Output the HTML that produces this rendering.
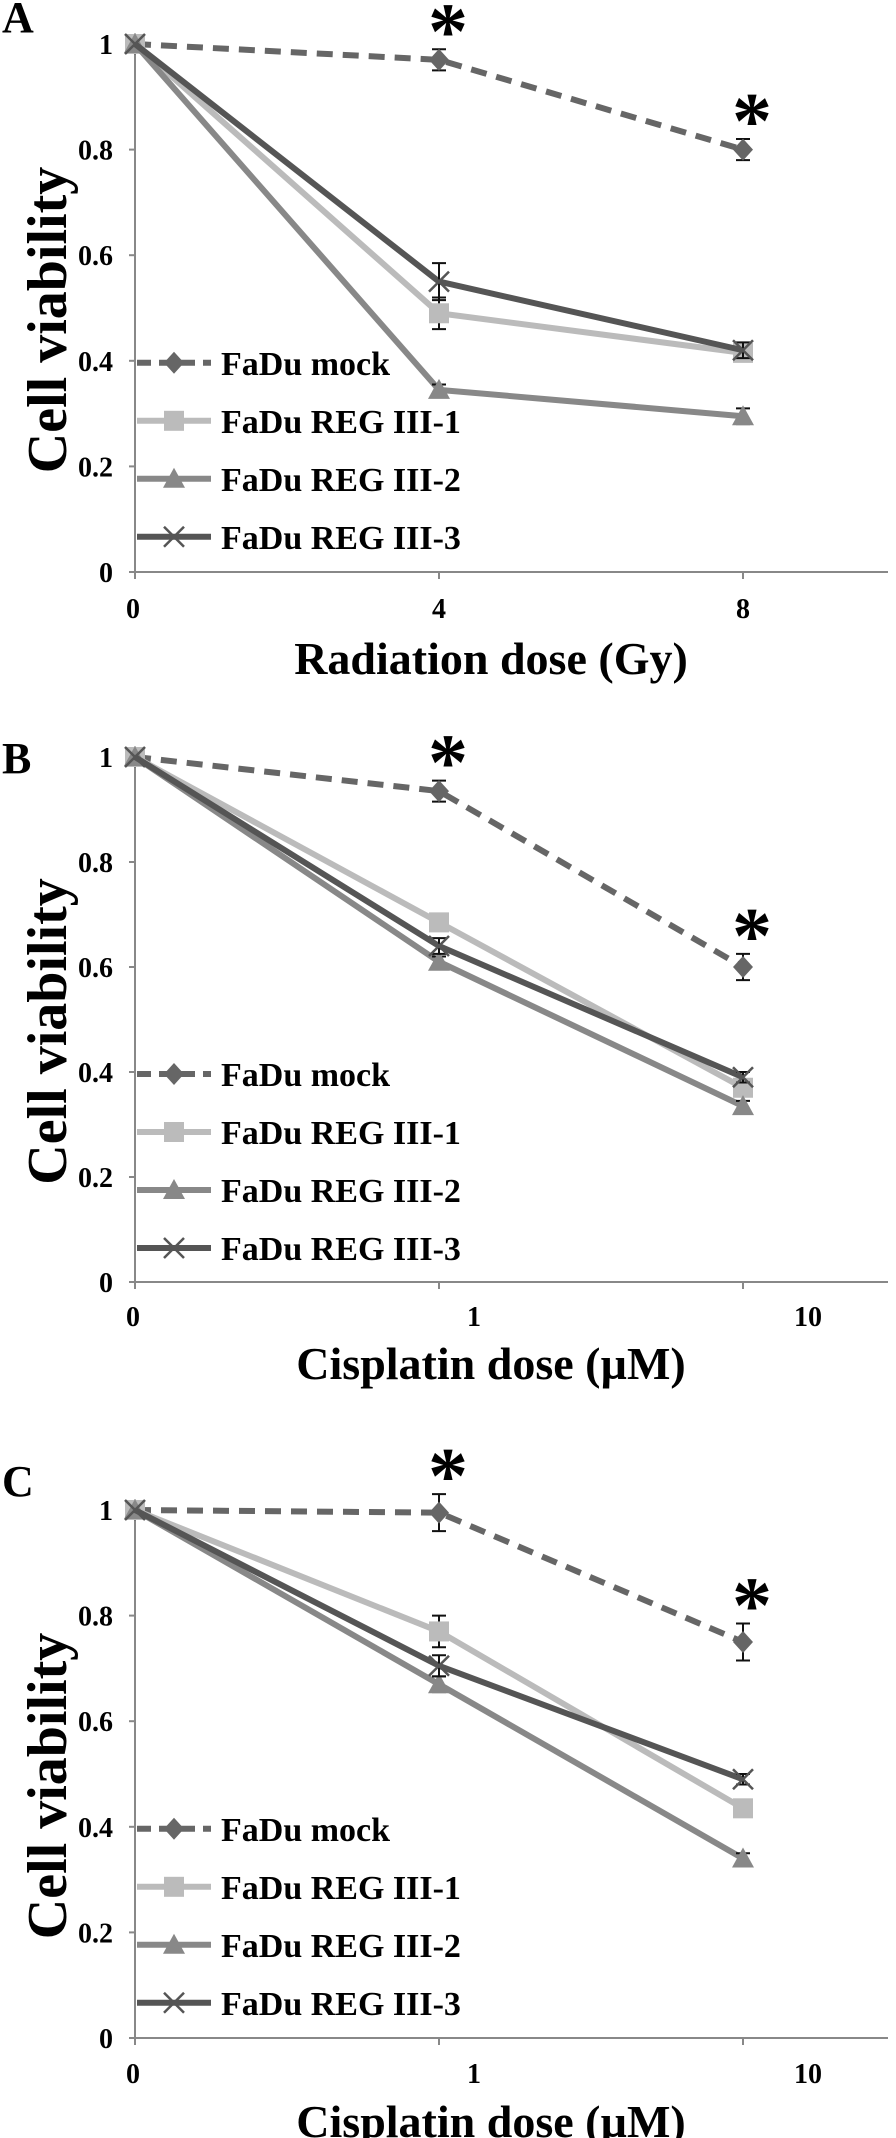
<!DOCTYPE html>
<html><head><meta charset="utf-8"><style>
html,body{margin:0;padding:0;background:#fff;}
svg{display:block;font-family:"Liberation Serif",serif;font-weight:bold;}
</style></head><body>
<svg id="fig" width="896" height="2138" viewBox="0 0 896 2138" xmlns="http://www.w3.org/2000/svg"></svg>
<script>
// ---- data ----
const seriesNames = ["FaDu mock","FaDu REG III-1","FaDu REG III-2","FaDu REG III-3"];
const yTicks = [0,0.2,0.4,0.6,0.8,1];
const yTickLabels = ["0","0.2","0.4","0.6","0.8","1"];
const aTickLabels = ["0","4","8"];
const bTickLabels = ["0","1","10"];
const cTickLabels = ["0","1","10"];
const aMock = [1,0.97,0.80];
const aReg1 = [1,0.49,0.415];
const aReg2 = [1,0.345,0.295];
const aReg3 = [1,0.55,0.42];
const aErrMock = [0,0.02,0.02];
const aErrReg1 = [0,0.03,0.01];
const aErrReg2 = [0,0.01,0.015];
const aErrReg3 = [0,0.035,0.015];
const bMock = [1,0.935,0.60];
const bReg1 = [1,0.685,0.37];
const bReg2 = [1,0.61,0.335];
const bReg3 = [1,0.64,0.39];
const bErrMock = [0,0.02,0.025];
const bErrReg1 = [0,0.01,0.01];
const bErrReg2 = [0,0.01,0.01];
const bErrReg3 = [0,0.015,0.01];
const cMock = [1,0.995,0.75];
const cReg1 = [1,0.77,0.435];
const cReg2 = [1,0.67,0.34];
const cReg3 = [1,0.705,0.49];
const cErrMock = [0,0.035,0.035];
const cErrReg1 = [0,0.03,0.01];
const cErrReg2 = [0,0.015,0.01];
const cErrReg3 = [0,0.02,0.01];

const NS="http://www.w3.org/2000/svg";
const svg=document.getElementById('fig');
function mk(tag,attrs,parent){const e=document.createElementNS(NS,tag);for(const k in attrs)e.setAttribute(k,attrs[k]);(parent||svg).appendChild(e);return e;}
const colors=["#666","#bbb","#888","#555"];

function marker(g,type,x,y,color){
  let m;
  if(type===0){m=mk('path',{d:`M${x} ${y-11}L${x+10} ${y}L${x} ${y+11}L${x-10} ${y}Z`,fill:color},g);}
  else if(type===1){m=mk('rect',{x:x-10,y:y-10,width:20,height:20,fill:color},g);}
  else if(type===2){m=mk('path',{d:`M${x} ${y-11}L${x+11} ${y+9}L${x-11} ${y+9}Z`,fill:color},g);}
  else {m=mk('path',{d:`M${x-10} ${y-10}L${x+10} ${y+10}M${x+10} ${y-10}L${x-10} ${y+10}`,stroke:color,'stroke-width':2.5},g);}
  return m;
}

function panel(cfg){
  const {letter,y0,y1,tickLabels,xTitle,series,errs,stars,letterY,tickY,titleY}=cfg;
  const xL=135, xR=888, step=304;
  const X=i=>xL+i*step;
  const Y=v=>y0+(y1-y0)*v;
  const g=mk('g',{},svg);
  
  
  const L=mk('text',{x:2,y:letterY,'font-size':44,fill:'#000'},g);L.textContent=letter;
  
  
  const ya=mk('line',{x1:xL,y1:Y(1)-4,x2:xL,y2:y0+4,stroke:'#888','stroke-width':2},g);
  
  const xa=mk('line',{x1:xL-6,y1:y0,x2:xR,y2:y0,stroke:'#888','stroke-width':2},g);
  
  yTicks.forEach((t,i)=>{
    mk('line',{x1:xL-6,y1:Y(t),x2:xL,y2:Y(t),stroke:'#888','stroke-width':2},g);
    const tl=mk('text',{x:xL-22,y:Y(t)+10,'font-size':28,'text-anchor':'end'},g);tl.textContent=yTickLabels[i];
    
  });
  tickLabels.forEach((t,i)=>{
    mk('line',{x1:X(i),y1:y0,x2:X(i),y2:y0+7,stroke:'#888','stroke-width':2},g);
    const tl=mk('text',{x:X(i)+(i===0?-2:i===1?(letter==='A'?0:35):(letter==='A'?0:65)),y:tickY,'font-size':28,'text-anchor':'middle'},g);tl.textContent=t;
    
  });
  const yt=mk('text',{x:0,y:0,'font-size':56,'text-anchor':'middle',transform:`translate(66 ${(Y(0)+Y(1))/2+12}) rotate(-90)`},g);yt.textContent='Cell viability';
  
  const xt=mk('text',{x:491,y:titleY,'font-size':46,'text-anchor':'middle'},g);xt.textContent=xTitle;
  
  [0,1,2,3].forEach(s=>{
    const vals=series[s];
    const pts=vals.map((v,i)=>X(i)+','+Y(v)).join(' ');
    const ln=mk('polyline',{points:pts,fill:'none',stroke:colors[s],'stroke-width':6,'stroke-dasharray':s===0?'16 10':'none','stroke-linejoin':'round'},g);
    
    
    vals.forEach((v,i)=>{
      const e=errs[s][i];
      if(e>0){
        const eb=mk('path',{d:`M${X(i)} ${Y(v+e)}V${Y(v-e)}M${X(i)-7} ${Y(v+e)}H${X(i)+7}M${X(i)-7} ${Y(v-e)}H${X(i)+7}`,stroke:'#111','stroke-width':2,fill:'none'},g);
        
      }
      const m=marker(g,s,X(i),Y(v),colors[s]);
      
      
    });
  });
  stars.forEach(i=>{
    const cy=Y(series[0][i]+errs[0][i])-28;
    const st=mk('text',{x:X(i)+9,y:cy+37,'font-size':80,'text-anchor':'middle'},g);st.textContent='*';
    
  });
  const lgY=[Y(0.4)+2,Y(0.4)+60,Y(0.4)+118,Y(0.4)+176];
  seriesNames.forEach((n,s)=>{
    const lg=mk('g',{},g);
    
    mk('line',{x1:137,y1:lgY[s],x2:211,y2:lgY[s],stroke:colors[s],'stroke-width':6,'stroke-dasharray':s===0?'14 8':'none'},lg);
    marker(lg,s,174,lgY[s],colors[s]);
    const t=mk('text',{x:221,y:lgY[s]+12,'font-size':34},lg);t.textContent=n;
  });
}

panel({letter:'A',y0:572,y1:44,tickLabels:aTickLabels,xTitle:'Radiation dose (Gy)',letterY:32,tickY:618,titleY:674,
  series:[aMock,aReg1,aReg2,aReg3],errs:[aErrMock,aErrReg1,aErrReg2,aErrReg3],stars:[1,2]});
panel({letter:'B',y0:1282,y1:757,tickLabels:bTickLabels,xTitle:'Cisplatin dose (µM)',letterY:773,tickY:1326,titleY:1379,
  series:[bMock,bReg1,bReg2,bReg3],errs:[bErrMock,bErrReg1,bErrReg2,bErrReg3],stars:[1,2]});
panel({letter:'C',y0:2038,y1:1510,tickLabels:cTickLabels,xTitle:'Cisplatin dose (µM)',letterY:1496,tickY:2083,titleY:2137,
  series:[cMock,cReg1,cReg2,cReg3],errs:[cErrMock,cErrReg1,cErrReg2,cErrReg3],stars:[1,2]});
</script>
</body></html>
